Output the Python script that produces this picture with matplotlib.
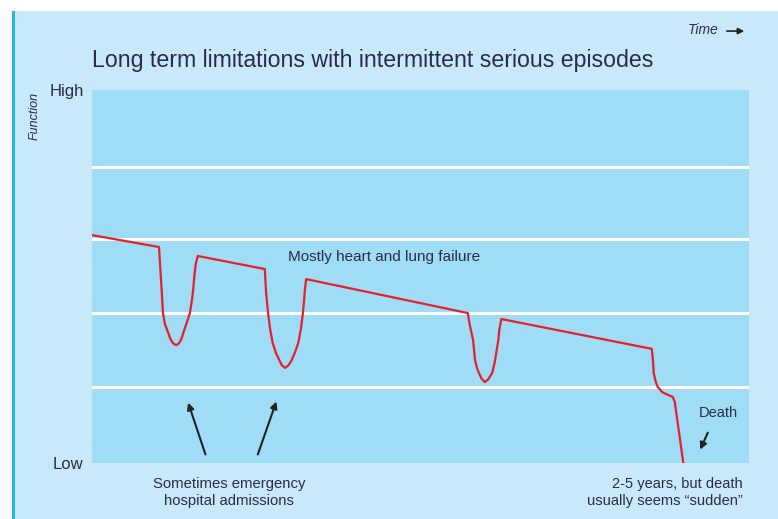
import matplotlib
matplotlib.use("Agg")
import matplotlib.pyplot as plt
from matplotlib.patches import Rectangle
from matplotlib import font_manager

# ---- data: trajectory of function over time (time 0-100, function 0=Low .. 1=High) ----
time = [0.0, 10.2, 10.4, 10.6, 10.8, 11.1, 11.6, 12.0, 12.4, 12.8, 13.2, 13.6, 13.9,
        14.4, 14.9, 15.2, 15.4, 15.6, 15.8, 16.1,
        26.3, 26.5, 26.8, 27.1, 27.5, 28.0, 28.5, 28.9, 29.4, 29.9, 30.4, 30.9, 31.4,
        31.8, 32.1, 32.3, 32.4, 32.6,
        57.2, 57.5, 58.0, 58.3, 58.6, 58.9, 59.3, 59.8, 60.3, 60.9, 61.3, 61.6, 61.85,
        62.0, 62.3,
        85.2, 85.4, 85.5, 85.8, 86.1, 86.8, 87.6, 88.4, 88.7, 90.0]
function = [0.611, 0.579, 0.520, 0.464, 0.402, 0.372, 0.349, 0.330, 0.320, 0.316, 0.320, 0.332, 0.349,
            0.375, 0.402, 0.435, 0.464, 0.505, 0.535, 0.555,
            0.520, 0.456, 0.402, 0.360, 0.322, 0.295, 0.276, 0.262, 0.255, 0.262, 0.276, 0.297, 0.322,
            0.360, 0.402, 0.440, 0.464, 0.493,
            0.402, 0.370, 0.330, 0.276, 0.255, 0.241, 0.226, 0.217, 0.224, 0.241, 0.270, 0.303, 0.330,
            0.357, 0.386,
            0.306, 0.270, 0.241, 0.218, 0.204, 0.190, 0.183, 0.177, 0.164, 0.0]
grid_levels = [0.204, 0.402, 0.601, 0.794]
y_ticks = [0, 1]
y_ticklabels = ["Low", "High"]

title = "Long term limitations with intermittent serious episodes"

# ---- style ----
names = {f.name for f in font_manager.fontManager.ttflist}
NARROW = "Liberation Sans Narrow" if "Liberation Sans Narrow" in names else "Liberation Sans"
plt.rcParams["font.family"] = [NARROW, "DejaVu Sans"]

C_PANEL = "#c8e9f9"
C_PLOT = "#9fdcf6"
C_BORDER = "#2ab4ea"
C_LINE = "#e4202c"
C_TEXT = "#2c2c44"

fig = plt.figure(figsize=(7.78, 5.19), dpi=100)
fig.patch.set_facecolor("white")
fig.add_artist(Rectangle((12 / 778, 0), 1, 508 / 519, transform=fig.transFigure,
                         facecolor=C_PANEL, edgecolor="none", zorder=-2))
fig.add_artist(Rectangle((12 / 778, 0), 2.5 / 778, 508 / 519, transform=fig.transFigure,
                         facecolor=C_BORDER, edgecolor="none", zorder=-1))

ax = fig.add_axes([92 / 778, 56 / 519, 657 / 778, 373 / 519])
ax.set_facecolor(C_PLOT)
for s in ax.spines.values():
    s.set_visible(False)
ax.set_xlim(0, 100)
ax.set_ylim(0, 1)
ax.set_xticks([])
ax.set_yticks(y_ticks)
ax.set_yticklabels(y_ticklabels, fontsize=12, color=C_TEXT)
ax.tick_params(axis="y", length=0, pad=6)

for g in grid_levels:
    ax.axhline(g, color="white", lw=2.2, zorder=1)

ax.plot(time, function, color=C_LINE, lw=1.6, solid_joinstyle="round",
        solid_capstyle="round", zorder=3)

# title and axis words
ax.text(0, 1.08, title, transform=ax.transAxes, ha="left", va="center",
        fontsize=16.7, color=C_TEXT)
fig.text(35 / 778, 1 - 116 / 519, "Function", rotation=90, ha="center", va="center",
         fontsize=9, style="italic", color=C_TEXT)
ax.text(0.907, 1.161, "Time", transform=ax.transAxes, ha="left", va="center",
        fontsize=10, style="italic", color=C_TEXT)
ax.annotate("", xy=(0.997, 1.158), xytext=(0.962, 1.158), xycoords="axes fraction",
            arrowprops=dict(arrowstyle="-|>", color="#222222", lw=1.2, mutation_scale=9))

# annotations
ax.text(29.8, 0.551, "Mostly heart and lung failure", ha="left", va="center",
        fontsize=11, color=C_TEXT)
arrow_kw = dict(arrowstyle="-|>", color="#222222", lw=1.5, mutation_scale=10)
ax.annotate("", xy=(14.5, 0.169), xytext=(17.4, 0.016), arrowprops=arrow_kw)
ax.annotate("", xy=(28.2, 0.172), xytext=(25.1, 0.016), arrowprops=arrow_kw)
ax.text(20.9, -0.08, "Sometimes emergency\nhospital admissions", ha="center", va="center",
        fontsize=10.7, color=C_TEXT, linespacing=1.3, clip_on=False)

ax.text(95.4, 0.135, "Death", ha="center", va="center", fontsize=10.5, color=C_TEXT)
ax.annotate("", xy=(92.4, 0.029), xytext=(93.9, 0.088), arrowprops=arrow_kw)
ax.text(99.1, -0.08, "2-5 years, but death\nusually seems \u201csudden\u201d", ha="right",
        va="center", fontsize=10.5, color=C_TEXT, linespacing=1.3, clip_on=False)

fig.savefig("out.png", dpi=100, facecolor=fig.get_facecolor())
